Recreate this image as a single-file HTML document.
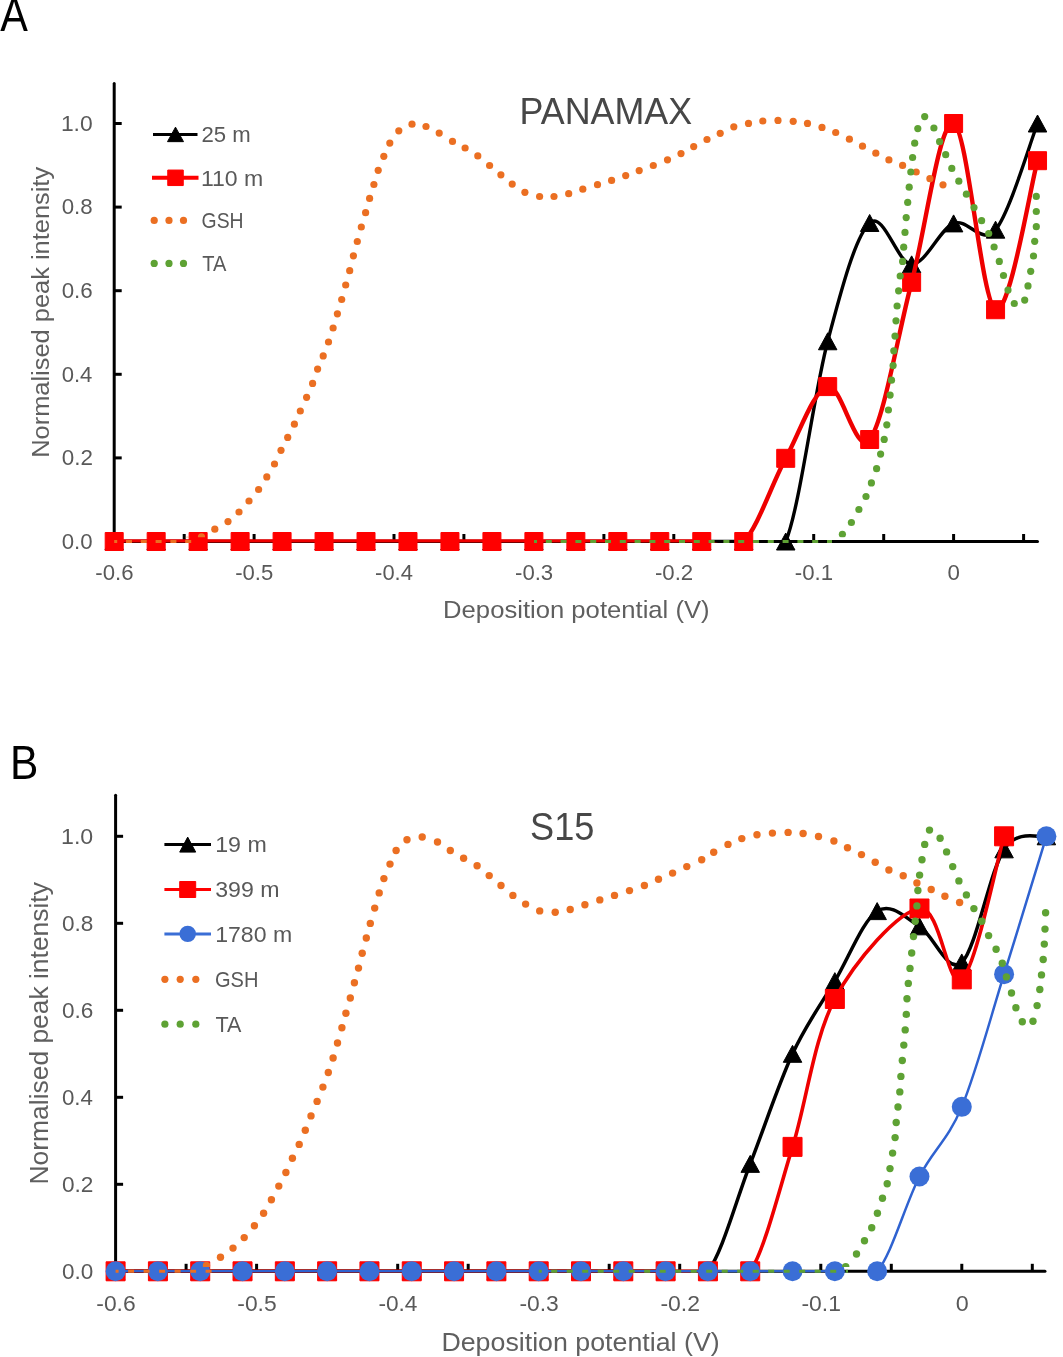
<!DOCTYPE html>
<html><head><meta charset="utf-8"><style>
html,body{margin:0;padding:0;background:#fff;}
body{width:1063px;height:1357px;overflow:hidden;position:relative;}
#w{position:absolute;left:0;top:0;width:1063px;height:1357px;}
svg{position:absolute;left:0;top:0;will-change:transform;}
text{font-family:"Liberation Sans", sans-serif;}
</style></head><body>
<div id="w"><svg width="1063" height="1357" viewBox="0 0 1063 1357">
<rect width="1063" height="1357" fill="#fff"/>
<g>
<defs><clipPath id="cA"><rect x="114" y="60" width="930" height="482.5"/></clipPath><clipPath id="cB"><rect x="115" y="780" width="935" height="492.5"/></clipPath><clipPath id="cAu"><rect x="114" y="60" width="930" height="477.3"/></clipPath><clipPath id="cBu"><rect x="115" y="780" width="935" height="487.1"/></clipPath></defs>
<path d="M114.2,83.5 L114.2,541.5" stroke="#000" stroke-width="3" stroke-linecap="round" fill="none"/>
<path d="M114.2,541.5 L1037.5,541.5" stroke="#000" stroke-width="3" stroke-linecap="round" fill="none"/>
<path d="M114.2,541.5 L121.7,541.5" stroke="#000" stroke-width="3" fill="none"/>
<path d="M114.2,457.9 L121.7,457.9" stroke="#000" stroke-width="3" fill="none"/>
<path d="M114.2,374.3 L121.7,374.3" stroke="#000" stroke-width="3" fill="none"/>
<path d="M114.2,290.7 L121.7,290.7" stroke="#000" stroke-width="3" fill="none"/>
<path d="M114.2,207.1 L121.7,207.1" stroke="#000" stroke-width="3" fill="none"/>
<path d="M114.2,123.5 L121.7,123.5" stroke="#000" stroke-width="3" fill="none"/>
<path d="M114.2,541.5 L114.2,534.0" stroke="#000" stroke-width="3" fill="none"/>
<path d="M184.2,541.5 L184.2,534.0" stroke="#000" stroke-width="3" fill="none"/>
<path d="M254.1,541.5 L254.1,534.0" stroke="#000" stroke-width="3" fill="none"/>
<path d="M324.1,541.5 L324.1,534.0" stroke="#000" stroke-width="3" fill="none"/>
<path d="M394.0,541.5 L394.0,534.0" stroke="#000" stroke-width="3" fill="none"/>
<path d="M463.9,541.5 L463.9,534.0" stroke="#000" stroke-width="3" fill="none"/>
<path d="M533.9,541.5 L533.9,534.0" stroke="#000" stroke-width="3" fill="none"/>
<path d="M603.9,541.5 L603.9,534.0" stroke="#000" stroke-width="3" fill="none"/>
<path d="M673.8,541.5 L673.8,534.0" stroke="#000" stroke-width="3" fill="none"/>
<path d="M743.8,541.5 L743.8,534.0" stroke="#000" stroke-width="3" fill="none"/>
<path d="M813.7,541.5 L813.7,534.0" stroke="#000" stroke-width="3" fill="none"/>
<path d="M883.7,541.5 L883.7,534.0" stroke="#000" stroke-width="3" fill="none"/>
<path d="M953.6,541.5 L953.6,534.0" stroke="#000" stroke-width="3" fill="none"/>
<path d="M1023.6,541.5 L1023.6,534.0" stroke="#000" stroke-width="3" fill="none"/>
<path d="M114.20,541.50 C121.20,541.50 142.18,541.50 156.17,541.50 C170.16,541.50 184.15,541.50 198.14,541.50 C212.13,541.50 226.12,541.50 240.11,541.50 C254.10,541.50 268.09,541.50 282.08,541.50 C296.07,541.50 310.06,541.50 324.05,541.50 C338.04,541.50 352.03,541.50 366.02,541.50 C380.01,541.50 394.00,541.50 407.99,541.50 C421.98,541.50 435.97,541.50 449.96,541.50 C463.95,541.50 477.94,541.50 491.93,541.50 C505.92,541.50 519.91,541.50 533.90,541.50 C547.89,541.50 561.88,541.50 575.87,541.50 C589.86,541.50 603.85,541.50 617.84,541.50 C631.83,541.50 645.82,541.50 659.81,541.50 C673.80,541.50 687.79,541.50 701.78,541.50 C715.77,541.50 729.76,541.50 743.75,541.50 C757.74,541.50 771.73,574.87 785.72,541.50 C799.71,508.13 813.70,394.36 827.69,341.28 C841.68,288.19 855.67,235.80 869.66,222.98 C883.65,210.17 897.64,264.30 911.63,264.37 C925.62,264.44 939.61,229.18 953.60,223.40 C967.59,217.62 981.58,246.32 995.57,229.67 C1009.56,213.02 1030.55,141.20 1037.54,123.50" stroke="#000" stroke-width="3.4" fill="none" stroke-linejoin="round" stroke-linecap="round" clip-path="url(#cA)"/>
<path d="M114.20,533.00 L123.45,550.00 L104.95,550.00 Z" fill="#000" stroke="#000" stroke-width="1" stroke-linejoin="round"/>
<path d="M156.17,533.00 L165.42,550.00 L146.92,550.00 Z" fill="#000" stroke="#000" stroke-width="1" stroke-linejoin="round"/>
<path d="M198.14,533.00 L207.39,550.00 L188.89,550.00 Z" fill="#000" stroke="#000" stroke-width="1" stroke-linejoin="round"/>
<path d="M240.11,533.00 L249.36,550.00 L230.86,550.00 Z" fill="#000" stroke="#000" stroke-width="1" stroke-linejoin="round"/>
<path d="M282.08,533.00 L291.33,550.00 L272.83,550.00 Z" fill="#000" stroke="#000" stroke-width="1" stroke-linejoin="round"/>
<path d="M324.05,533.00 L333.30,550.00 L314.80,550.00 Z" fill="#000" stroke="#000" stroke-width="1" stroke-linejoin="round"/>
<path d="M366.02,533.00 L375.27,550.00 L356.77,550.00 Z" fill="#000" stroke="#000" stroke-width="1" stroke-linejoin="round"/>
<path d="M407.99,533.00 L417.24,550.00 L398.74,550.00 Z" fill="#000" stroke="#000" stroke-width="1" stroke-linejoin="round"/>
<path d="M449.96,533.00 L459.21,550.00 L440.71,550.00 Z" fill="#000" stroke="#000" stroke-width="1" stroke-linejoin="round"/>
<path d="M491.93,533.00 L501.18,550.00 L482.68,550.00 Z" fill="#000" stroke="#000" stroke-width="1" stroke-linejoin="round"/>
<path d="M533.90,533.00 L543.15,550.00 L524.65,550.00 Z" fill="#000" stroke="#000" stroke-width="1" stroke-linejoin="round"/>
<path d="M575.87,533.00 L585.12,550.00 L566.62,550.00 Z" fill="#000" stroke="#000" stroke-width="1" stroke-linejoin="round"/>
<path d="M617.84,533.00 L627.09,550.00 L608.59,550.00 Z" fill="#000" stroke="#000" stroke-width="1" stroke-linejoin="round"/>
<path d="M659.81,533.00 L669.06,550.00 L650.56,550.00 Z" fill="#000" stroke="#000" stroke-width="1" stroke-linejoin="round"/>
<path d="M701.78,533.00 L711.03,550.00 L692.53,550.00 Z" fill="#000" stroke="#000" stroke-width="1" stroke-linejoin="round"/>
<path d="M743.75,533.00 L753.00,550.00 L734.50,550.00 Z" fill="#000" stroke="#000" stroke-width="1" stroke-linejoin="round"/>
<path d="M785.72,533.00 L794.97,550.00 L776.47,550.00 Z" fill="#000" stroke="#000" stroke-width="1" stroke-linejoin="round"/>
<path d="M827.69,332.78 L836.94,349.78 L818.44,349.78 Z" fill="#000" stroke="#000" stroke-width="1" stroke-linejoin="round"/>
<path d="M869.66,214.48 L878.91,231.48 L860.41,231.48 Z" fill="#000" stroke="#000" stroke-width="1" stroke-linejoin="round"/>
<path d="M911.63,255.87 L920.88,272.87 L902.38,272.87 Z" fill="#000" stroke="#000" stroke-width="1" stroke-linejoin="round"/>
<path d="M953.60,214.90 L962.85,231.90 L944.35,231.90 Z" fill="#000" stroke="#000" stroke-width="1" stroke-linejoin="round"/>
<path d="M995.57,221.17 L1004.82,238.17 L986.32,238.17 Z" fill="#000" stroke="#000" stroke-width="1" stroke-linejoin="round"/>
<path d="M1037.54,115.00 L1046.79,132.00 L1028.29,132.00 Z" fill="#000" stroke="#000" stroke-width="1" stroke-linejoin="round"/>
<path d="M114.20,541.50 C121.20,541.50 142.18,541.50 156.17,541.50 C170.16,541.50 184.15,541.50 198.14,541.50 C212.13,541.50 226.12,541.50 240.11,541.50 C254.10,541.50 268.09,541.50 282.08,541.50 C296.07,541.50 310.06,541.50 324.05,541.50 C338.04,541.50 352.03,541.50 366.02,541.50 C380.01,541.50 394.00,541.50 407.99,541.50 C421.98,541.50 435.97,541.50 449.96,541.50 C463.95,541.50 477.94,541.50 491.93,541.50 C505.92,541.50 519.91,541.50 533.90,541.50 C547.89,541.50 561.88,541.50 575.87,541.50 C589.86,541.50 603.85,541.50 617.84,541.50 C631.83,541.50 645.82,541.50 659.81,541.50 C673.80,541.50 687.79,541.50 701.78,541.50 C715.77,541.50 729.76,555.36 743.75,541.50 C757.74,527.64 771.73,484.14 785.72,458.32 C799.71,432.50 813.70,389.72 827.69,386.59 C841.68,383.45 855.67,456.88 869.66,439.51 C883.65,422.13 897.64,335.01 911.63,282.34 C925.62,229.67 939.61,118.94 953.60,123.50 C967.59,128.06 981.58,303.52 995.57,309.72 C1009.56,315.92 1030.55,185.54 1037.54,160.70" stroke="#EE0000" stroke-width="4.4" fill="none" stroke-linejoin="round" stroke-linecap="round" clip-path="url(#cA)"/>
<rect x="105.20" y="532.50" width="18.00" height="18.00" fill="#f00" stroke="#f00" stroke-width="1" stroke-linejoin="round"/>
<rect x="147.17" y="532.50" width="18.00" height="18.00" fill="#f00" stroke="#f00" stroke-width="1" stroke-linejoin="round"/>
<rect x="189.14" y="532.50" width="18.00" height="18.00" fill="#f00" stroke="#f00" stroke-width="1" stroke-linejoin="round"/>
<rect x="231.11" y="532.50" width="18.00" height="18.00" fill="#f00" stroke="#f00" stroke-width="1" stroke-linejoin="round"/>
<rect x="273.08" y="532.50" width="18.00" height="18.00" fill="#f00" stroke="#f00" stroke-width="1" stroke-linejoin="round"/>
<rect x="315.05" y="532.50" width="18.00" height="18.00" fill="#f00" stroke="#f00" stroke-width="1" stroke-linejoin="round"/>
<rect x="357.02" y="532.50" width="18.00" height="18.00" fill="#f00" stroke="#f00" stroke-width="1" stroke-linejoin="round"/>
<rect x="398.99" y="532.50" width="18.00" height="18.00" fill="#f00" stroke="#f00" stroke-width="1" stroke-linejoin="round"/>
<rect x="440.96" y="532.50" width="18.00" height="18.00" fill="#f00" stroke="#f00" stroke-width="1" stroke-linejoin="round"/>
<rect x="482.93" y="532.50" width="18.00" height="18.00" fill="#f00" stroke="#f00" stroke-width="1" stroke-linejoin="round"/>
<rect x="524.90" y="532.50" width="18.00" height="18.00" fill="#f00" stroke="#f00" stroke-width="1" stroke-linejoin="round"/>
<rect x="566.87" y="532.50" width="18.00" height="18.00" fill="#f00" stroke="#f00" stroke-width="1" stroke-linejoin="round"/>
<rect x="608.84" y="532.50" width="18.00" height="18.00" fill="#f00" stroke="#f00" stroke-width="1" stroke-linejoin="round"/>
<rect x="650.81" y="532.50" width="18.00" height="18.00" fill="#f00" stroke="#f00" stroke-width="1" stroke-linejoin="round"/>
<rect x="692.78" y="532.50" width="18.00" height="18.00" fill="#f00" stroke="#f00" stroke-width="1" stroke-linejoin="round"/>
<rect x="734.75" y="532.50" width="18.00" height="18.00" fill="#f00" stroke="#f00" stroke-width="1" stroke-linejoin="round"/>
<rect x="776.72" y="449.32" width="18.00" height="18.00" fill="#f00" stroke="#f00" stroke-width="1" stroke-linejoin="round"/>
<rect x="818.69" y="377.59" width="18.00" height="18.00" fill="#f00" stroke="#f00" stroke-width="1" stroke-linejoin="round"/>
<rect x="860.66" y="430.51" width="18.00" height="18.00" fill="#f00" stroke="#f00" stroke-width="1" stroke-linejoin="round"/>
<rect x="902.63" y="273.34" width="18.00" height="18.00" fill="#f00" stroke="#f00" stroke-width="1" stroke-linejoin="round"/>
<rect x="944.60" y="114.50" width="18.00" height="18.00" fill="#f00" stroke="#f00" stroke-width="1" stroke-linejoin="round"/>
<rect x="986.57" y="300.72" width="18.00" height="18.00" fill="#f00" stroke="#f00" stroke-width="1" stroke-linejoin="round"/>
<rect x="1028.54" y="151.70" width="18.00" height="18.00" fill="#f00" stroke="#f00" stroke-width="1" stroke-linejoin="round"/>
<g fill="#EB6F22" clip-path="url(#cAu)"><circle cx="187.5" cy="540.3" r="3.60"/><circle cx="201.5" cy="536.9" r="3.60"/><circle cx="214.8" cy="529.2" r="3.60"/><circle cx="228.0" cy="521.6" r="3.60"/><circle cx="239.0" cy="512.0" r="3.60"/><circle cx="249.0" cy="501.0" r="3.60"/><circle cx="258.6" cy="489.5" r="3.60"/><circle cx="266.8" cy="476.9" r="3.60"/><circle cx="274.5" cy="464.0" r="3.60"/><circle cx="281.0" cy="450.3" r="3.60"/><circle cx="287.7" cy="437.4" r="3.60"/><circle cx="294.4" cy="424.2" r="3.60"/><circle cx="300.3" cy="411.0" r="3.60"/><circle cx="306.6" cy="397.3" r="3.60"/><circle cx="312.6" cy="383.4" r="3.60"/><circle cx="317.6" cy="369.1" r="3.60"/><circle cx="323.2" cy="355.9" r="3.60"/><circle cx="328.5" cy="342.0" r="3.60"/><circle cx="333.1" cy="328.0" r="3.60"/><circle cx="337.4" cy="313.8" r="3.60"/><circle cx="341.7" cy="299.5" r="3.60"/><circle cx="345.7" cy="285.0" r="3.60"/><circle cx="349.7" cy="270.7" r="3.60"/><circle cx="353.4" cy="255.8" r="3.60"/><circle cx="357.3" cy="241.5" r="3.60"/><circle cx="361.3" cy="227.0" r="3.60"/><circle cx="365.6" cy="212.7" r="3.60"/><circle cx="369.6" cy="198.4" r="3.60"/><circle cx="373.9" cy="184.5" r="3.60"/><circle cx="378.2" cy="170.3" r="3.60"/><circle cx="383.8" cy="156.3" r="3.60"/><circle cx="389.8" cy="143.1" r="3.60"/><circle cx="398.8" cy="130.8" r="3.60"/><circle cx="412.0" cy="124.2" r="3.60"/><circle cx="426.0" cy="126.5" r="3.60"/><circle cx="439.2" cy="133.1" r="3.60"/><circle cx="452.5" cy="141.4" r="3.60"/><circle cx="465.1" cy="148.0" r="3.60"/><circle cx="477.8" cy="155.9" r="3.60"/><circle cx="489.6" cy="165.5" r="3.60"/><circle cx="500.9" cy="174.8" r="3.60"/><circle cx="512.2" cy="184.1" r="3.60"/><circle cx="524.9" cy="192.3" r="3.60"/><circle cx="539.6" cy="196.5" r="3.60"/><circle cx="554.0" cy="196.5" r="3.60"/><circle cx="568.7" cy="193.7" r="3.60"/><circle cx="582.8" cy="189.2" r="3.60"/><circle cx="597.5" cy="184.7" r="3.60"/><circle cx="611.6" cy="180.4" r="3.60"/><circle cx="625.7" cy="175.6" r="3.60"/><circle cx="639.2" cy="170.6" r="3.60"/><circle cx="653.3" cy="165.5" r="3.60"/><circle cx="667.5" cy="159.8" r="3.60"/><circle cx="681.0" cy="153.6" r="3.60"/><circle cx="693.7" cy="146.6" r="3.60"/><circle cx="707.0" cy="139.5" r="3.60"/><circle cx="720.2" cy="133.3" r="3.60"/><circle cx="733.8" cy="126.8" r="3.60"/><circle cx="748.5" cy="123.4" r="3.60"/><circle cx="762.8" cy="121.0" r="3.60"/><circle cx="778.0" cy="120.4" r="3.60"/><circle cx="793.2" cy="121.3" r="3.60"/><circle cx="807.5" cy="123.4" r="3.60"/><circle cx="822.0" cy="127.4" r="3.60"/><circle cx="835.7" cy="132.5" r="3.60"/><circle cx="849.4" cy="139.2" r="3.60"/><circle cx="862.5" cy="146.2" r="3.60"/><circle cx="875.8" cy="153.2" r="3.60"/><circle cx="888.9" cy="159.9" r="3.60"/><circle cx="902.6" cy="165.4" r="3.60"/><circle cx="916.2" cy="172.0" r="3.60"/><circle cx="929.9" cy="178.7" r="3.60"/><circle cx="943.0" cy="184.8" r="3.60"/></g>
<path d="M114.2,541.5 L200.0,541.5" stroke="#EB6F22" stroke-width="3" fill="none" stroke-dasharray="6 8.8" stroke-dashoffset="3"/>
<g fill="#5EA234" clip-path="url(#cAu)"><circle cx="830.6" cy="541.8" r="3.60"/><circle cx="842.4" cy="534.3" r="3.60"/><circle cx="851.4" cy="522.5" r="3.60"/><circle cx="858.9" cy="509.5" r="3.60"/><circle cx="866.0" cy="496.5" r="3.60"/><circle cx="871.4" cy="482.9" r="3.60"/><circle cx="876.6" cy="468.7" r="3.60"/><circle cx="880.6" cy="454.1" r="3.60"/><circle cx="884.2" cy="439.4" r="3.60"/><circle cx="886.8" cy="424.8" r="3.60"/><circle cx="888.4" cy="410.0" r="3.60"/><circle cx="890.1" cy="395.1" r="3.60"/><circle cx="891.5" cy="380.2" r="3.60"/><circle cx="893.1" cy="365.6" r="3.60"/><circle cx="893.8" cy="350.8" r="3.60"/><circle cx="895.0" cy="336.1" r="3.60"/><circle cx="896.0" cy="320.8" r="3.60"/><circle cx="897.1" cy="306.0" r="3.60"/><circle cx="898.6" cy="290.8" r="3.60"/><circle cx="900.2" cy="276.0" r="3.60"/><circle cx="902.6" cy="261.4" r="3.60"/><circle cx="903.7" cy="247.2" r="3.60"/><circle cx="905.0" cy="232.4" r="3.60"/><circle cx="906.2" cy="217.6" r="3.60"/><circle cx="907.7" cy="202.4" r="3.60"/><circle cx="909.2" cy="187.2" r="3.60"/><circle cx="910.8" cy="172.0" r="3.60"/><circle cx="912.6" cy="157.5" r="3.60"/><circle cx="914.7" cy="143.2" r="3.60"/><circle cx="917.8" cy="128.6" r="3.60"/><circle cx="924.7" cy="116.6" r="3.60"/><circle cx="933.9" cy="128.0" r="3.60"/><circle cx="939.6" cy="141.7" r="3.60"/><circle cx="945.7" cy="154.7" r="3.60"/><circle cx="951.8" cy="168.4" r="3.60"/><circle cx="958.8" cy="181.2" r="3.60"/><circle cx="966.4" cy="194.2" r="3.60"/><circle cx="974.0" cy="207.6" r="3.60"/><circle cx="981.6" cy="220.7" r="3.60"/><circle cx="988.7" cy="233.5" r="3.60"/><circle cx="994.1" cy="247.0" r="3.60"/><circle cx="999.3" cy="261.4" r="3.60"/><circle cx="1003.5" cy="275.5" r="3.60"/><circle cx="1008.0" cy="290.1" r="3.60"/><circle cx="1014.3" cy="303.5" r="3.60"/><circle cx="1024.7" cy="300.1" r="3.60"/><circle cx="1028.0" cy="285.9" r="3.60"/><circle cx="1030.7" cy="271.3" r="3.60"/><circle cx="1033.5" cy="256.0" r="3.60"/><circle cx="1034.7" cy="241.3" r="3.60"/><circle cx="1036.3" cy="226.7" r="3.60"/><circle cx="1036.3" cy="211.5" r="3.60"/><circle cx="1036.3" cy="196.4" r="3.60"/></g>
<path d="M534.0,541.5 L832.0,541.5" stroke="#5EA234" stroke-width="3" fill="none" stroke-dasharray="6 8.8" stroke-dashoffset="3"/>
<text x="61.7" y="548.8" font-size="21.20" fill="#595959" text-anchor="start" textLength="30.9" lengthAdjust="spacingAndGlyphs">0.0</text>
<text x="61.7" y="465.2" font-size="21.20" fill="#595959" text-anchor="start" textLength="31.2" lengthAdjust="spacingAndGlyphs">0.2</text>
<text x="61.7" y="381.6" font-size="21.20" fill="#595959" text-anchor="start" textLength="30.7" lengthAdjust="spacingAndGlyphs">0.4</text>
<text x="61.7" y="298.0" font-size="21.20" fill="#595959" text-anchor="start" textLength="31.1" lengthAdjust="spacingAndGlyphs">0.6</text>
<text x="61.7" y="214.4" font-size="21.20" fill="#595959" text-anchor="start" textLength="31.0" lengthAdjust="spacingAndGlyphs">0.8</text>
<text x="60.9" y="130.8" font-size="21.20" fill="#595959" text-anchor="start" textLength="31.8" lengthAdjust="spacingAndGlyphs">1.0</text>
<text x="95.3" y="580.4" font-size="22.30" fill="#595959" text-anchor="start" textLength="38.2" lengthAdjust="spacingAndGlyphs">-0.6</text>
<text x="235.2" y="580.4" font-size="22.30" fill="#595959" text-anchor="start" textLength="38.1" lengthAdjust="spacingAndGlyphs">-0.5</text>
<text x="375.1" y="580.4" font-size="22.30" fill="#595959" text-anchor="start" textLength="37.8" lengthAdjust="spacingAndGlyphs">-0.4</text>
<text x="515.0" y="580.4" font-size="22.30" fill="#595959" text-anchor="start" textLength="38.2" lengthAdjust="spacingAndGlyphs">-0.3</text>
<text x="654.9" y="580.4" font-size="22.30" fill="#595959" text-anchor="start" textLength="38.3" lengthAdjust="spacingAndGlyphs">-0.2</text>
<text x="794.8" y="580.4" font-size="22.30" fill="#595959" text-anchor="start" textLength="38.3" lengthAdjust="spacingAndGlyphs">-0.1</text>
<text x="947.6" y="580.4" font-size="22.30" fill="#595959" text-anchor="start" textLength="12.4" lengthAdjust="spacingAndGlyphs">0</text>
<text x="443.1" y="618.2" font-size="24.60" fill="#5f5f5f" text-anchor="start" textLength="266.5" lengthAdjust="spacingAndGlyphs">Deposition potential (V)</text>
<text transform="translate(49.2,455.7) rotate(-90)" x="-2.08" y="0" font-size="24.40" fill="#5f5f5f" textLength="290.93" lengthAdjust="spacingAndGlyphs">Normalised peak intensity</text>
<text x="519.5" y="123.5" font-size="37.80" fill="#474747" text-anchor="start" textLength="172.6" lengthAdjust="spacingAndGlyphs">PANAMAX</text>
<text x="0.2" y="30.8" font-size="48.40" fill="#000" text-anchor="start" textLength="27.6" lengthAdjust="spacingAndGlyphs">A</text>
<path d="M153,134.4 L197.5,134.4" stroke="#000" stroke-width="3"/>
<path d="M175.50,127.15 L183.50,141.65 L167.50,141.65 Z" fill="#000" stroke="#000" stroke-width="1" stroke-linejoin="round"/>
<path d="M152,177.8 L198.5,177.8" stroke="#FF0000" stroke-width="4"/>
<rect x="167.75" y="170.05" width="15.50" height="15.50" fill="#f00" stroke="#f00" stroke-width="1" stroke-linejoin="round"/>
<circle cx="154.2" cy="220.4" r="3.6" fill="#EB6F22"/>
<circle cx="154.2" cy="263.4" r="3.6" fill="#5EA234"/>
<circle cx="169.0" cy="220.4" r="3.6" fill="#EB6F22"/>
<circle cx="169.0" cy="263.4" r="3.6" fill="#5EA234"/>
<circle cx="183.5" cy="220.4" r="3.6" fill="#EB6F22"/>
<circle cx="183.5" cy="263.4" r="3.6" fill="#5EA234"/>
<text x="201.5" y="141.6" font-size="21.60" fill="#595959" text-anchor="start" textLength="49.3" lengthAdjust="spacingAndGlyphs">25 m</text>
<text x="200.9" y="185.5" font-size="21.60" fill="#595959" text-anchor="start" textLength="62.4" lengthAdjust="spacingAndGlyphs">110 m</text>
<text x="201.6" y="227.9" font-size="21.60" fill="#595959" text-anchor="start" textLength="42.0" lengthAdjust="spacingAndGlyphs">GSH</text>
<text x="202.2" y="270.7" font-size="21.60" fill="#595959" text-anchor="start" textLength="24.2" lengthAdjust="spacingAndGlyphs">TA</text>
<path d="M115.6,795.3 L115.6,1271.3" stroke="#000" stroke-width="3" stroke-linecap="round" fill="none"/>
<path d="M115.6,1271.3 L1045.0,1271.3" stroke="#000" stroke-width="3" stroke-linecap="round" fill="none"/>
<path d="M115.6,1271.3 L123.1,1271.3" stroke="#000" stroke-width="3" fill="none"/>
<path d="M115.6,1184.3 L123.1,1184.3" stroke="#000" stroke-width="3" fill="none"/>
<path d="M115.6,1097.3 L123.1,1097.3" stroke="#000" stroke-width="3" fill="none"/>
<path d="M115.6,1010.3 L123.1,1010.3" stroke="#000" stroke-width="3" fill="none"/>
<path d="M115.6,923.3 L123.1,923.3" stroke="#000" stroke-width="3" fill="none"/>
<path d="M115.6,836.3 L123.1,836.3" stroke="#000" stroke-width="3" fill="none"/>
<path d="M115.6,1271.3 L115.6,1263.8" stroke="#000" stroke-width="3" fill="none"/>
<path d="M186.1,1271.3 L186.1,1263.8" stroke="#000" stroke-width="3" fill="none"/>
<path d="M256.6,1271.3 L256.6,1263.8" stroke="#000" stroke-width="3" fill="none"/>
<path d="M327.1,1271.3 L327.1,1263.8" stroke="#000" stroke-width="3" fill="none"/>
<path d="M397.7,1271.3 L397.7,1263.8" stroke="#000" stroke-width="3" fill="none"/>
<path d="M468.2,1271.3 L468.2,1263.8" stroke="#000" stroke-width="3" fill="none"/>
<path d="M538.7,1271.3 L538.7,1263.8" stroke="#000" stroke-width="3" fill="none"/>
<path d="M609.2,1271.3 L609.2,1263.8" stroke="#000" stroke-width="3" fill="none"/>
<path d="M679.7,1271.3 L679.7,1263.8" stroke="#000" stroke-width="3" fill="none"/>
<path d="M750.2,1271.3 L750.2,1263.8" stroke="#000" stroke-width="3" fill="none"/>
<path d="M820.8,1271.3 L820.8,1263.8" stroke="#000" stroke-width="3" fill="none"/>
<path d="M891.3,1271.3 L891.3,1263.8" stroke="#000" stroke-width="3" fill="none"/>
<path d="M961.8,1271.3 L961.8,1263.8" stroke="#000" stroke-width="3" fill="none"/>
<path d="M1032.3,1271.3 L1032.3,1263.8" stroke="#000" stroke-width="3" fill="none"/>
<path d="M115.60,1271.30 C122.65,1271.30 143.81,1271.30 157.91,1271.30 C172.01,1271.30 186.11,1271.30 200.22,1271.30 C214.32,1271.30 228.42,1271.30 242.53,1271.30 C256.63,1271.30 270.73,1271.30 284.84,1271.30 C298.94,1271.30 313.04,1271.30 327.14,1271.30 C341.25,1271.30 355.35,1271.30 369.45,1271.30 C383.56,1271.30 397.66,1271.30 411.76,1271.30 C425.87,1271.30 439.97,1271.30 454.07,1271.30 C468.18,1271.30 482.28,1271.30 496.38,1271.30 C510.48,1271.30 524.59,1271.30 538.69,1271.30 C552.79,1271.30 566.90,1271.30 581.00,1271.30 C595.10,1271.30 609.20,1271.30 623.31,1271.30 C637.41,1271.30 651.51,1271.30 665.62,1271.30 C679.72,1271.30 693.82,1289.21 707.93,1271.30 C722.03,1253.39 736.13,1200.11 750.23,1163.86 C764.34,1127.61 778.44,1084.25 792.54,1053.80 C806.65,1023.35 820.75,1004.93 834.85,981.15 C848.96,957.38 863.06,920.25 877.16,911.12 C891.26,901.98 905.37,917.79 919.47,926.34 C933.57,934.90 947.68,975.28 961.78,962.45 C975.88,949.62 989.99,870.37 1004.09,849.35 C1018.19,828.32 1039.35,838.47 1046.40,836.30" stroke="#000" stroke-width="3.5" fill="none" stroke-linejoin="round" stroke-linecap="round" clip-path="url(#cB)"/>
<path d="M115.60,1262.80 L124.85,1279.80 L106.35,1279.80 Z" fill="#000" stroke="#000" stroke-width="1" stroke-linejoin="round"/>
<path d="M157.91,1262.80 L167.16,1279.80 L148.66,1279.80 Z" fill="#000" stroke="#000" stroke-width="1" stroke-linejoin="round"/>
<path d="M200.22,1262.80 L209.47,1279.80 L190.97,1279.80 Z" fill="#000" stroke="#000" stroke-width="1" stroke-linejoin="round"/>
<path d="M242.53,1262.80 L251.78,1279.80 L233.28,1279.80 Z" fill="#000" stroke="#000" stroke-width="1" stroke-linejoin="round"/>
<path d="M284.84,1262.80 L294.09,1279.80 L275.59,1279.80 Z" fill="#000" stroke="#000" stroke-width="1" stroke-linejoin="round"/>
<path d="M327.14,1262.80 L336.39,1279.80 L317.89,1279.80 Z" fill="#000" stroke="#000" stroke-width="1" stroke-linejoin="round"/>
<path d="M369.45,1262.80 L378.70,1279.80 L360.20,1279.80 Z" fill="#000" stroke="#000" stroke-width="1" stroke-linejoin="round"/>
<path d="M411.76,1262.80 L421.01,1279.80 L402.51,1279.80 Z" fill="#000" stroke="#000" stroke-width="1" stroke-linejoin="round"/>
<path d="M454.07,1262.80 L463.32,1279.80 L444.82,1279.80 Z" fill="#000" stroke="#000" stroke-width="1" stroke-linejoin="round"/>
<path d="M496.38,1262.80 L505.63,1279.80 L487.13,1279.80 Z" fill="#000" stroke="#000" stroke-width="1" stroke-linejoin="round"/>
<path d="M538.69,1262.80 L547.94,1279.80 L529.44,1279.80 Z" fill="#000" stroke="#000" stroke-width="1" stroke-linejoin="round"/>
<path d="M581.00,1262.80 L590.25,1279.80 L571.75,1279.80 Z" fill="#000" stroke="#000" stroke-width="1" stroke-linejoin="round"/>
<path d="M623.31,1262.80 L632.56,1279.80 L614.06,1279.80 Z" fill="#000" stroke="#000" stroke-width="1" stroke-linejoin="round"/>
<path d="M665.62,1262.80 L674.87,1279.80 L656.37,1279.80 Z" fill="#000" stroke="#000" stroke-width="1" stroke-linejoin="round"/>
<path d="M707.93,1262.80 L717.18,1279.80 L698.68,1279.80 Z" fill="#000" stroke="#000" stroke-width="1" stroke-linejoin="round"/>
<path d="M750.23,1155.36 L759.48,1172.36 L740.98,1172.36 Z" fill="#000" stroke="#000" stroke-width="1" stroke-linejoin="round"/>
<path d="M792.54,1045.30 L801.79,1062.30 L783.29,1062.30 Z" fill="#000" stroke="#000" stroke-width="1" stroke-linejoin="round"/>
<path d="M834.85,972.65 L844.10,989.65 L825.60,989.65 Z" fill="#000" stroke="#000" stroke-width="1" stroke-linejoin="round"/>
<path d="M877.16,902.62 L886.41,919.62 L867.91,919.62 Z" fill="#000" stroke="#000" stroke-width="1" stroke-linejoin="round"/>
<path d="M919.47,917.84 L928.72,934.84 L910.22,934.84 Z" fill="#000" stroke="#000" stroke-width="1" stroke-linejoin="round"/>
<path d="M961.78,953.95 L971.03,970.95 L952.53,970.95 Z" fill="#000" stroke="#000" stroke-width="1" stroke-linejoin="round"/>
<path d="M1004.09,840.85 L1013.34,857.85 L994.84,857.85 Z" fill="#000" stroke="#000" stroke-width="1" stroke-linejoin="round"/>
<path d="M1046.40,827.80 L1055.65,844.80 L1037.15,844.80 Z" fill="#000" stroke="#000" stroke-width="1" stroke-linejoin="round"/>
<path d="M115.60,1271.30 C122.65,1271.30 143.81,1271.30 157.91,1271.30 C172.01,1271.30 186.11,1271.30 200.22,1271.30 C214.32,1271.30 228.42,1271.30 242.53,1271.30 C256.63,1271.30 270.73,1271.30 284.84,1271.30 C298.94,1271.30 313.04,1271.30 327.14,1271.30 C341.25,1271.30 355.35,1271.30 369.45,1271.30 C383.56,1271.30 397.66,1271.30 411.76,1271.30 C425.87,1271.30 439.97,1271.30 454.07,1271.30 C468.18,1271.30 482.28,1271.30 496.38,1271.30 C510.48,1271.30 524.59,1271.30 538.69,1271.30 C552.79,1271.30 566.90,1271.30 581.00,1271.30 C595.10,1271.30 609.20,1271.30 623.31,1271.30 C637.41,1271.30 651.51,1271.30 665.62,1271.30 C679.72,1271.30 693.82,1271.30 707.93,1271.30 C722.03,1271.30 736.13,1292.03 750.23,1271.30 C764.34,1250.57 778.44,1192.27 792.54,1146.89 C806.65,1101.50 813.70,1038.72 834.85,998.99 C856.01,959.26 898.32,911.77 919.47,908.51 C940.63,905.25 947.68,991.45 961.78,979.41 C975.88,967.38 997.04,860.15 1004.09,836.30" stroke="#EE0000" stroke-width="3.6" fill="none" stroke-linejoin="round" stroke-linecap="round" clip-path="url(#cB)"/>
<rect x="106.10" y="1261.80" width="19.00" height="19.00" fill="#f00" stroke="#f00" stroke-width="1" stroke-linejoin="round"/>
<rect x="148.41" y="1261.80" width="19.00" height="19.00" fill="#f00" stroke="#f00" stroke-width="1" stroke-linejoin="round"/>
<rect x="190.72" y="1261.80" width="19.00" height="19.00" fill="#f00" stroke="#f00" stroke-width="1" stroke-linejoin="round"/>
<rect x="233.03" y="1261.80" width="19.00" height="19.00" fill="#f00" stroke="#f00" stroke-width="1" stroke-linejoin="round"/>
<rect x="275.34" y="1261.80" width="19.00" height="19.00" fill="#f00" stroke="#f00" stroke-width="1" stroke-linejoin="round"/>
<rect x="317.64" y="1261.80" width="19.00" height="19.00" fill="#f00" stroke="#f00" stroke-width="1" stroke-linejoin="round"/>
<rect x="359.95" y="1261.80" width="19.00" height="19.00" fill="#f00" stroke="#f00" stroke-width="1" stroke-linejoin="round"/>
<rect x="402.26" y="1261.80" width="19.00" height="19.00" fill="#f00" stroke="#f00" stroke-width="1" stroke-linejoin="round"/>
<rect x="444.57" y="1261.80" width="19.00" height="19.00" fill="#f00" stroke="#f00" stroke-width="1" stroke-linejoin="round"/>
<rect x="486.88" y="1261.80" width="19.00" height="19.00" fill="#f00" stroke="#f00" stroke-width="1" stroke-linejoin="round"/>
<rect x="529.19" y="1261.80" width="19.00" height="19.00" fill="#f00" stroke="#f00" stroke-width="1" stroke-linejoin="round"/>
<rect x="571.50" y="1261.80" width="19.00" height="19.00" fill="#f00" stroke="#f00" stroke-width="1" stroke-linejoin="round"/>
<rect x="613.81" y="1261.80" width="19.00" height="19.00" fill="#f00" stroke="#f00" stroke-width="1" stroke-linejoin="round"/>
<rect x="656.12" y="1261.80" width="19.00" height="19.00" fill="#f00" stroke="#f00" stroke-width="1" stroke-linejoin="round"/>
<rect x="698.43" y="1261.80" width="19.00" height="19.00" fill="#f00" stroke="#f00" stroke-width="1" stroke-linejoin="round"/>
<rect x="740.73" y="1261.80" width="19.00" height="19.00" fill="#f00" stroke="#f00" stroke-width="1" stroke-linejoin="round"/>
<rect x="783.04" y="1137.39" width="19.00" height="19.00" fill="#f00" stroke="#f00" stroke-width="1" stroke-linejoin="round"/>
<rect x="825.35" y="989.49" width="19.00" height="19.00" fill="#f00" stroke="#f00" stroke-width="1" stroke-linejoin="round"/>
<rect x="909.97" y="899.01" width="19.00" height="19.00" fill="#f00" stroke="#f00" stroke-width="1" stroke-linejoin="round"/>
<rect x="952.28" y="969.91" width="19.00" height="19.00" fill="#f00" stroke="#f00" stroke-width="1" stroke-linejoin="round"/>
<rect x="994.59" y="826.80" width="19.00" height="19.00" fill="#f00" stroke="#f00" stroke-width="1" stroke-linejoin="round"/>
<path d="M115.60,1271.30 C122.65,1271.30 143.81,1271.30 157.91,1271.30 C172.01,1271.30 186.11,1271.30 200.22,1271.30 C214.32,1271.30 228.42,1271.30 242.53,1271.30 C256.63,1271.30 270.73,1271.30 284.84,1271.30 C298.94,1271.30 313.04,1271.30 327.14,1271.30 C341.25,1271.30 355.35,1271.30 369.45,1271.30 C383.56,1271.30 397.66,1271.30 411.76,1271.30 C425.87,1271.30 439.97,1271.30 454.07,1271.30 C468.18,1271.30 482.28,1271.30 496.38,1271.30 C510.48,1271.30 524.59,1271.30 538.69,1271.30 C552.79,1271.30 566.90,1271.30 581.00,1271.30 C595.10,1271.30 609.20,1271.30 623.31,1271.30 C637.41,1271.30 651.51,1271.30 665.62,1271.30 C679.72,1271.30 693.82,1271.30 707.93,1271.30 C722.03,1271.30 736.13,1271.30 750.23,1271.30 C764.34,1271.30 778.44,1271.30 792.54,1271.30 C806.65,1271.30 820.75,1271.30 834.85,1271.30 C848.96,1271.30 863.06,1287.11 877.16,1271.30 C891.26,1255.49 905.37,1203.88 919.47,1176.47 C933.57,1149.07 947.68,1140.58 961.78,1106.87 C975.88,1073.16 989.99,1019.29 1004.09,974.19 C1018.19,929.10 1039.35,859.28 1046.40,836.30" stroke="#2F62D0" stroke-width="2.5" fill="none" stroke-linejoin="round" stroke-linecap="round" clip-path="url(#cB)"/>
<circle cx="115.60" cy="1271.30" r="10.00" fill="#3A6ED6"/>
<circle cx="157.91" cy="1271.30" r="10.00" fill="#3A6ED6"/>
<circle cx="200.22" cy="1271.30" r="10.00" fill="#3A6ED6"/>
<circle cx="242.53" cy="1271.30" r="10.00" fill="#3A6ED6"/>
<circle cx="284.84" cy="1271.30" r="10.00" fill="#3A6ED6"/>
<circle cx="327.14" cy="1271.30" r="10.00" fill="#3A6ED6"/>
<circle cx="369.45" cy="1271.30" r="10.00" fill="#3A6ED6"/>
<circle cx="411.76" cy="1271.30" r="10.00" fill="#3A6ED6"/>
<circle cx="454.07" cy="1271.30" r="10.00" fill="#3A6ED6"/>
<circle cx="496.38" cy="1271.30" r="10.00" fill="#3A6ED6"/>
<circle cx="538.69" cy="1271.30" r="10.00" fill="#3A6ED6"/>
<circle cx="581.00" cy="1271.30" r="10.00" fill="#3A6ED6"/>
<circle cx="623.31" cy="1271.30" r="10.00" fill="#3A6ED6"/>
<circle cx="665.62" cy="1271.30" r="10.00" fill="#3A6ED6"/>
<circle cx="707.93" cy="1271.30" r="10.00" fill="#3A6ED6"/>
<circle cx="750.23" cy="1271.30" r="10.00" fill="#3A6ED6"/>
<circle cx="792.54" cy="1271.30" r="10.00" fill="#3A6ED6"/>
<circle cx="834.85" cy="1271.30" r="10.00" fill="#3A6ED6"/>
<circle cx="877.16" cy="1271.30" r="10.00" fill="#3A6ED6"/>
<circle cx="919.47" cy="1176.47" r="10.00" fill="#3A6ED6"/>
<circle cx="961.78" cy="1106.87" r="10.00" fill="#3A6ED6"/>
<circle cx="1004.09" cy="974.19" r="10.00" fill="#3A6ED6"/>
<circle cx="1046.40" cy="836.30" r="10.00" fill="#3A6ED6"/>
<g fill="#EB6F22" clip-path="url(#cBu)"><circle cx="206.5" cy="1265.5" r="3.70"/><circle cx="220.5" cy="1257.3" r="3.70"/><circle cx="233.0" cy="1248.1" r="3.70"/><circle cx="244.2" cy="1237.6" r="3.70"/><circle cx="254.4" cy="1225.8" r="3.70"/><circle cx="263.6" cy="1213.2" r="3.70"/><circle cx="271.4" cy="1199.7" r="3.70"/><circle cx="278.8" cy="1186.1" r="3.70"/><circle cx="285.9" cy="1172.5" r="3.70"/><circle cx="292.4" cy="1158.3" r="3.70"/><circle cx="299.2" cy="1144.4" r="3.70"/><circle cx="305.3" cy="1130.2" r="3.70"/><circle cx="311.0" cy="1115.9" r="3.70"/><circle cx="317.1" cy="1101.4" r="3.70"/><circle cx="322.9" cy="1087.1" r="3.70"/><circle cx="328.3" cy="1072.5" r="3.70"/><circle cx="333.1" cy="1058.0" r="3.70"/><circle cx="337.5" cy="1043.0" r="3.70"/><circle cx="341.9" cy="1027.8" r="3.70"/><circle cx="345.9" cy="1013.2" r="3.70"/><circle cx="350.3" cy="998.0" r="3.70"/><circle cx="354.4" cy="982.7" r="3.70"/><circle cx="358.5" cy="968.1" r="3.70"/><circle cx="362.2" cy="953.2" r="3.70"/><circle cx="366.3" cy="938.0" r="3.70"/><circle cx="370.3" cy="923.4" r="3.70"/><circle cx="374.7" cy="908.1" r="3.70"/><circle cx="379.2" cy="892.9" r="3.70"/><circle cx="383.9" cy="878.6" r="3.70"/><circle cx="390.0" cy="864.1" r="3.70"/><circle cx="396.1" cy="850.5" r="3.70"/><circle cx="407.0" cy="839.7" r="3.70"/><circle cx="422.2" cy="837.0" r="3.70"/><circle cx="437.5" cy="842.0" r="3.70"/><circle cx="450.3" cy="850.5" r="3.70"/><circle cx="463.6" cy="858.3" r="3.70"/><circle cx="477.1" cy="865.7" r="3.70"/><circle cx="489.2" cy="875.6" r="3.70"/><circle cx="501.0" cy="885.5" r="3.70"/><circle cx="512.9" cy="895.4" r="3.70"/><circle cx="525.6" cy="904.1" r="3.70"/><circle cx="539.7" cy="910.9" r="3.70"/><circle cx="555.2" cy="912.3" r="3.70"/><circle cx="570.2" cy="909.5" r="3.70"/><circle cx="584.9" cy="904.7" r="3.70"/><circle cx="599.8" cy="899.9" r="3.70"/><circle cx="614.5" cy="895.4" r="3.70"/><circle cx="629.5" cy="890.6" r="3.70"/><circle cx="644.4" cy="885.5" r="3.70"/><circle cx="658.5" cy="879.3" r="3.70"/><circle cx="672.6" cy="873.1" r="3.70"/><circle cx="686.8" cy="866.6" r="3.70"/><circle cx="701.7" cy="859.8" r="3.70"/><circle cx="713.7" cy="852.3" r="3.70"/><circle cx="728.0" cy="844.4" r="3.70"/><circle cx="741.8" cy="838.6" r="3.70"/><circle cx="757.0" cy="834.8" r="3.70"/><circle cx="772.4" cy="833.1" r="3.70"/><circle cx="788.1" cy="832.4" r="3.70"/><circle cx="803.1" cy="833.5" r="3.70"/><circle cx="818.5" cy="836.5" r="3.70"/><circle cx="833.9" cy="841.0" r="3.70"/><circle cx="847.5" cy="847.8" r="3.70"/><circle cx="861.5" cy="854.6" r="3.70"/><circle cx="875.2" cy="862.2" r="3.70"/><circle cx="888.9" cy="870.0" r="3.70"/><circle cx="903.2" cy="875.8" r="3.70"/><circle cx="916.9" cy="883.0" r="3.70"/><circle cx="931.2" cy="889.5" r="3.70"/><circle cx="944.9" cy="896.3" r="3.70"/><circle cx="959.6" cy="902.5" r="3.70"/></g>
<path d="M115.6,1271.3 L215.0,1271.3" stroke="#EB6F22" stroke-width="3" fill="none" stroke-dasharray="6 9.5" stroke-dashoffset="3"/>
<g fill="#5EA234" clip-path="url(#cBu)"><circle cx="845.7" cy="1266.6" r="3.70"/><circle cx="856.5" cy="1254.0" r="3.70"/><circle cx="864.5" cy="1240.7" r="3.70"/><circle cx="871.7" cy="1227.7" r="3.70"/><circle cx="877.4" cy="1213.3" r="3.70"/><circle cx="882.5" cy="1198.2" r="3.70"/><circle cx="887.2" cy="1183.8" r="3.70"/><circle cx="890.0" cy="1168.6" r="3.70"/><circle cx="892.6" cy="1153.1" r="3.70"/><circle cx="895.1" cy="1137.6" r="3.70"/><circle cx="896.2" cy="1122.5" r="3.70"/><circle cx="898.0" cy="1107.0" r="3.70"/><circle cx="899.8" cy="1091.9" r="3.70"/><circle cx="900.9" cy="1076.4" r="3.70"/><circle cx="902.3" cy="1060.5" r="3.70"/><circle cx="903.8" cy="1045.1" r="3.70"/><circle cx="905.2" cy="1029.9" r="3.70"/><circle cx="906.3" cy="1014.4" r="3.70"/><circle cx="907.0" cy="998.8" r="3.70"/><circle cx="908.3" cy="983.4" r="3.70"/><circle cx="910.0" cy="968.4" r="3.70"/><circle cx="911.7" cy="953.0" r="3.70"/><circle cx="913.5" cy="936.6" r="3.70"/><circle cx="915.2" cy="921.2" r="3.70"/><circle cx="916.9" cy="905.9" r="3.70"/><circle cx="917.9" cy="890.5" r="3.70"/><circle cx="919.6" cy="875.1" r="3.70"/><circle cx="922.0" cy="859.8" r="3.70"/><circle cx="924.7" cy="844.4" r="3.70"/><circle cx="929.5" cy="830.1" r="3.70"/><circle cx="940.1" cy="838.3" r="3.70"/><circle cx="946.6" cy="851.9" r="3.70"/><circle cx="952.7" cy="866.6" r="3.70"/><circle cx="958.9" cy="880.9" r="3.70"/><circle cx="966.4" cy="894.9" r="3.70"/><circle cx="973.9" cy="908.6" r="3.70"/><circle cx="981.8" cy="921.2" r="3.70"/><circle cx="988.6" cy="935.6" r="3.70"/><circle cx="996.1" cy="949.2" r="3.70"/><circle cx="1002.3" cy="963.3" r="3.70"/><circle cx="1006.4" cy="976.9" r="3.70"/><circle cx="1011.5" cy="993.0" r="3.70"/><circle cx="1015.9" cy="1007.7" r="3.70"/><circle cx="1022.3" cy="1021.8" r="3.70"/><circle cx="1033.0" cy="1021.3" r="3.70"/><circle cx="1037.1" cy="1005.6" r="3.70"/><circle cx="1039.8" cy="989.5" r="3.70"/><circle cx="1041.5" cy="974.9" r="3.70"/><circle cx="1043.2" cy="959.5" r="3.70"/><circle cx="1044.3" cy="944.1" r="3.70"/><circle cx="1045.0" cy="929.1" r="3.70"/><circle cx="1045.6" cy="912.7" r="3.70"/></g>
<path d="M538.7,1271.3 L848.0,1271.3" stroke="#5EA234" stroke-width="3" fill="none" stroke-dasharray="6 9.5" stroke-dashoffset="3"/>
<text x="61.9" y="1278.9" font-size="22.00" fill="#595959" text-anchor="start" textLength="31.3" lengthAdjust="spacingAndGlyphs">0.0</text>
<text x="61.9" y="1191.9" font-size="22.00" fill="#595959" text-anchor="start" textLength="31.5" lengthAdjust="spacingAndGlyphs">0.2</text>
<text x="61.9" y="1104.9" font-size="22.00" fill="#595959" text-anchor="start" textLength="31.0" lengthAdjust="spacingAndGlyphs">0.4</text>
<text x="61.9" y="1017.9" font-size="22.00" fill="#595959" text-anchor="start" textLength="31.4" lengthAdjust="spacingAndGlyphs">0.6</text>
<text x="61.9" y="930.9" font-size="22.00" fill="#595959" text-anchor="start" textLength="31.4" lengthAdjust="spacingAndGlyphs">0.8</text>
<text x="61.0" y="843.9" font-size="22.00" fill="#595959" text-anchor="start" textLength="32.2" lengthAdjust="spacingAndGlyphs">1.0</text>
<text x="96.3" y="1310.9" font-size="22.80" fill="#595959" text-anchor="start" textLength="39.4" lengthAdjust="spacingAndGlyphs">-0.6</text>
<text x="237.3" y="1310.9" font-size="22.80" fill="#595959" text-anchor="start" textLength="39.4" lengthAdjust="spacingAndGlyphs">-0.5</text>
<text x="378.4" y="1310.9" font-size="22.80" fill="#595959" text-anchor="start" textLength="39.1" lengthAdjust="spacingAndGlyphs">-0.4</text>
<text x="519.4" y="1310.9" font-size="22.80" fill="#595959" text-anchor="start" textLength="39.4" lengthAdjust="spacingAndGlyphs">-0.3</text>
<text x="660.4" y="1310.9" font-size="22.80" fill="#595959" text-anchor="start" textLength="39.6" lengthAdjust="spacingAndGlyphs">-0.2</text>
<text x="801.4" y="1310.9" font-size="22.80" fill="#595959" text-anchor="start" textLength="39.5" lengthAdjust="spacingAndGlyphs">-0.1</text>
<text x="955.7" y="1310.9" font-size="22.80" fill="#595959" text-anchor="start" textLength="13.0" lengthAdjust="spacingAndGlyphs">0</text>
<text x="441.4" y="1351.0" font-size="26.60" fill="#5f5f5f" text-anchor="start" textLength="278.3" lengthAdjust="spacingAndGlyphs">Deposition potential (V)</text>
<text transform="translate(48.4,1182.3) rotate(-90)" x="-2.17" y="0" font-size="26.70" fill="#5f5f5f" textLength="302.32" lengthAdjust="spacingAndGlyphs">Normalised peak intensity</text>
<text x="530.1" y="839.5" font-size="39.50" fill="#474747" text-anchor="start" textLength="64.3" lengthAdjust="spacingAndGlyphs">S15</text>
<text x="10.0" y="779.3" font-size="48.40" fill="#000" text-anchor="start" textLength="28.3" lengthAdjust="spacingAndGlyphs">B</text>
<path d="M164.4,844.6 L211,844.6" stroke="#000" stroke-width="3"/>
<path d="M187.70,837.10 L195.70,852.10 L179.70,852.10 Z" fill="#000" stroke="#000" stroke-width="1" stroke-linejoin="round"/>
<path d="M164.4,889.5 L211,889.5" stroke="#FF0000" stroke-width="3"/>
<rect x="179.70" y="881.50" width="16.00" height="16.00" fill="#f00" stroke="#f00" stroke-width="1" stroke-linejoin="round"/>
<path d="M164.4,933.9 L211,933.9" stroke="#3A6ED6" stroke-width="3"/>
<circle cx="187.70" cy="933.90" r="8.20" fill="#3A6ED6"/>
<circle cx="164.9" cy="979.3" r="3.6" fill="#EB6F22"/>
<circle cx="164.9" cy="1024.2" r="3.6" fill="#5EA234"/>
<circle cx="180.2" cy="979.3" r="3.6" fill="#EB6F22"/>
<circle cx="180.2" cy="1024.2" r="3.6" fill="#5EA234"/>
<circle cx="195.8" cy="979.3" r="3.6" fill="#EB6F22"/>
<circle cx="195.8" cy="1024.2" r="3.6" fill="#5EA234"/>
<text x="215.2" y="852.0" font-size="22.80" fill="#595959" text-anchor="start" textLength="51.6" lengthAdjust="spacingAndGlyphs">19 m</text>
<text x="215.2" y="897.3" font-size="22.80" fill="#595959" text-anchor="start" textLength="64.3" lengthAdjust="spacingAndGlyphs">399 m</text>
<text x="215.2" y="941.7" font-size="22.80" fill="#595959" text-anchor="start" textLength="77.0" lengthAdjust="spacingAndGlyphs">1780 m</text>
<text x="215.0" y="987.0" font-size="22.80" fill="#595959" text-anchor="start" textLength="43.4" lengthAdjust="spacingAndGlyphs">GSH</text>
<text x="215.5" y="1031.9" font-size="22.80" fill="#595959" text-anchor="start" textLength="26.0" lengthAdjust="spacingAndGlyphs">TA</text>
</g>
</svg></div>
</body></html>
